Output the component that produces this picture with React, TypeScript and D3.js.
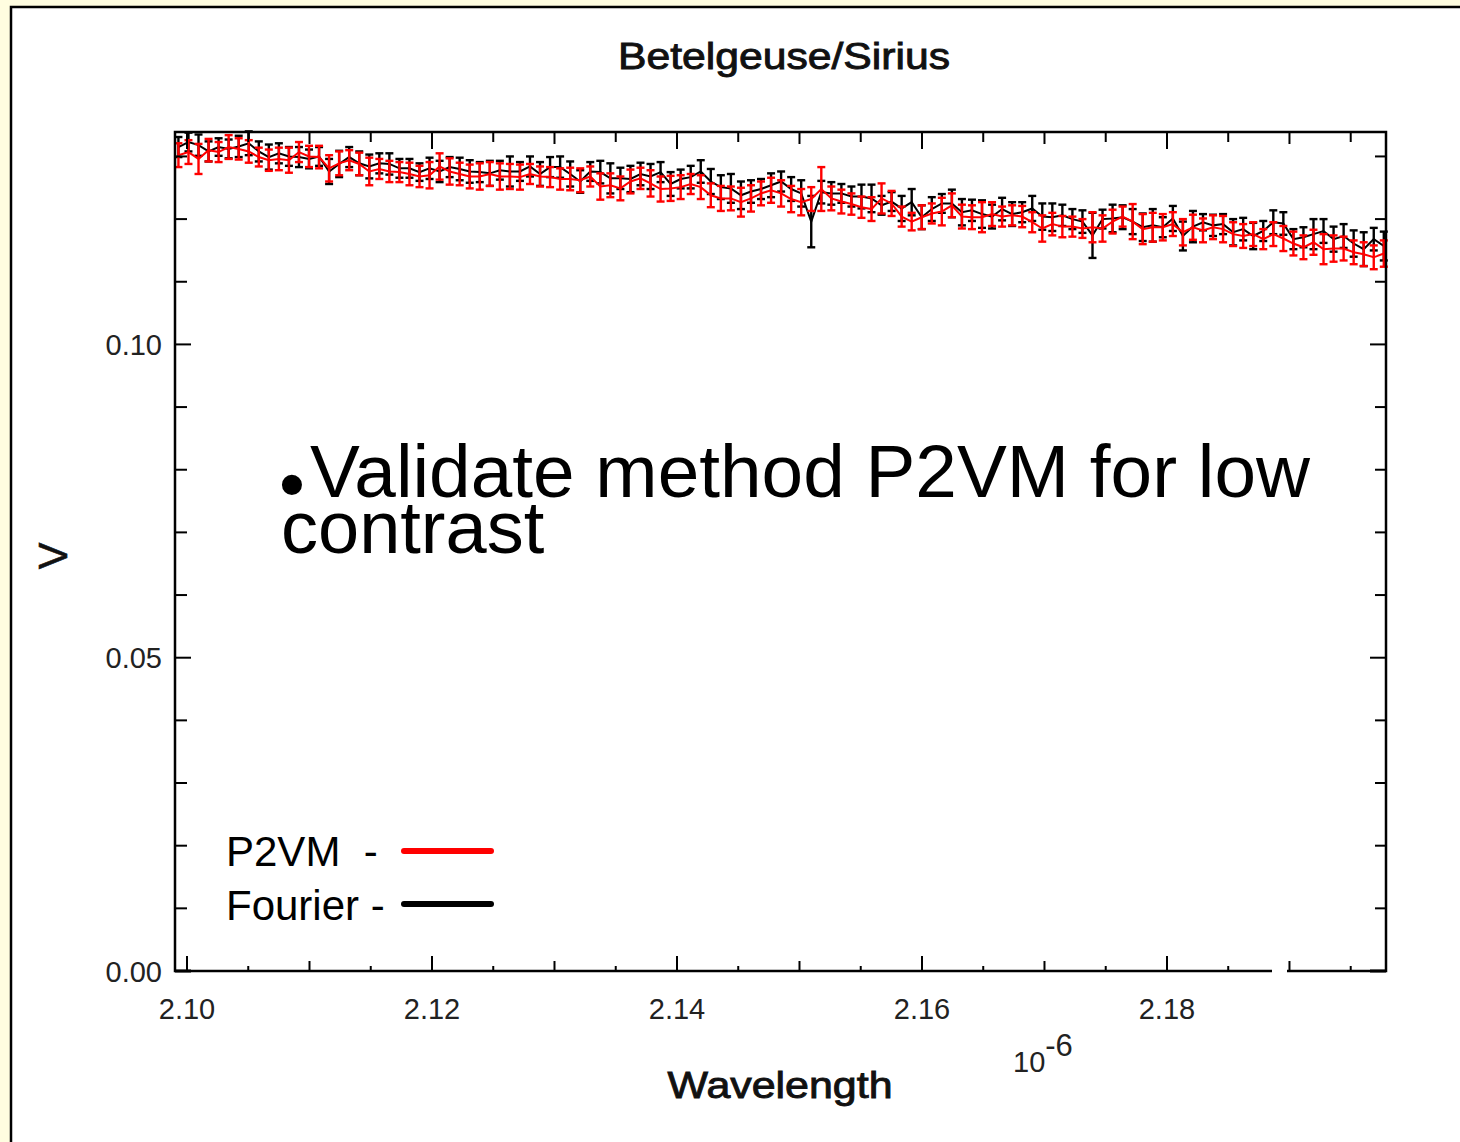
import React from 'react';
import * as d3 from 'd3';

// Spectral channel grid (micrometres)
const WL_START = 2.0993;
const WL_STEP = 0.00082;

const p2vmV = [
  0.1302,0.1307,0.1296,0.1310,0.1307,0.1315,0.1312,0.1308,0.1299,0.1294,
  0.1296,0.1294,0.1307,0.1300,0.1299,0.1281,0.1289,0.1294,0.1288,0.1276,
  0.1280,0.1276,0.1275,0.1272,0.1268,0.1270,0.1284,0.1276,0.1272,0.1268,
  0.1268,0.1272,0.1268,0.1268,0.1267,0.1272,0.1268,0.1267,0.1264,0.1264,
  0.1262,0.1268,0.1252,0.1254,0.1249,0.1260,0.1265,0.1257,0.1248,0.1249,
  0.1251,0.1256,0.1251,0.1238,0.1233,0.1233,0.1227,0.1233,0.1241,0.1246,
  0.1241,0.1232,0.1227,0.1232,0.1248,0.1233,0.1228,0.1224,0.1219,0.1216,
  0.1233,0.1225,0.1204,0.1196,0.1203,0.1209,0.1212,0.1222,0.1204,0.1203,
  0.1203,0.1208,0.1204,0.1206,0.1204,0.1195,0.1185,0.1192,0.1188,0.1188,
  0.1185,0.1187,0.1185,0.1196,0.1204,0.1196,0.1184,0.1187,0.1187,0.1192,
  0.1179,0.1187,0.1182,0.1187,0.1184,0.1176,0.1173,0.1176,0.1168,0.1176,
  0.1169,0.1161,0.1155,0.1163,0.1152,0.1153,0.1153,0.1147,0.1144,0.1139,
  0.1145,
];
const p2vmErr = [
  0.0019,0.0019,0.0024,0.0018,0.0016,0.0019,0.0017,0.0018,0.0015,0.0017,
  0.0018,0.0020,0.0016,0.0017,0.0018,0.0021,0.0019,0.0016,0.0018,0.0022,
  0.0016,0.0017,0.0016,0.0018,0.0017,0.0021,0.0021,0.0021,0.0018,0.0019,
  0.0021,0.0019,0.0021,0.0020,0.0020,0.0016,0.0016,0.0016,0.0017,0.0018,
  0.0019,0.0016,0.0021,0.0019,0.0019,0.0019,0.0017,0.0021,0.0020,0.0020,
  0.0019,0.0016,0.0019,0.0019,0.0020,0.0019,0.0023,0.0021,0.0019,0.0020,
  0.0021,0.0021,0.0021,0.0019,0.0035,0.0019,0.0019,0.0017,0.0017,0.0019,
  0.0024,0.0020,0.0016,0.0014,0.0019,0.0016,0.0022,0.0019,0.0019,0.0019,
  0.0024,0.0019,0.0016,0.0016,0.0017,0.0016,0.0021,0.0018,0.0017,0.0016,
  0.0015,0.0024,0.0021,0.0019,0.0016,0.0028,0.0024,0.0023,0.0021,0.0019,
  0.0021,0.0020,0.0019,0.0019,0.0021,0.0019,0.0019,0.0019,0.0016,0.0019,
  0.0020,0.0019,0.0019,0.0020,0.0024,0.0021,0.0019,0.0019,0.0019,0.0019,
  0.0021,
];
const fourierV = [
  0.1315,0.1323,0.1318,0.1308,0.1315,0.1312,0.1316,0.1321,0.1308,0.1299,
  0.1305,0.1300,0.1299,0.1296,0.1300,0.1276,0.1288,0.1299,0.1289,0.1284,
  0.1289,0.1288,0.1281,0.1281,0.1275,0.1281,0.1276,0.1283,0.1280,0.1276,
  0.1275,0.1273,0.1278,0.1276,0.1276,0.1284,0.1272,0.1283,0.1283,0.1272,
  0.1260,0.1276,0.1275,0.1265,0.1265,0.1264,0.1272,0.1268,0.1275,0.1256,
  0.1264,0.1267,0.1276,0.1260,0.1251,0.1249,0.1238,0.1244,0.1248,0.1254,
  0.1260,0.1248,0.1241,0.1196,0.1243,0.1241,0.1241,0.1236,0.1236,0.1233,
  0.1222,0.1228,0.1217,0.1227,0.1203,0.1216,0.1225,0.1225,0.1211,0.1214,
  0.1208,0.1204,0.1216,0.1208,0.1211,0.1217,0.1204,0.1203,0.1206,0.1200,
  0.1196,0.1174,0.1200,0.1201,0.1203,0.1196,0.1187,0.1190,0.1187,0.1201,
  0.1173,0.1188,0.1195,0.1190,0.1192,0.1179,0.1184,0.1173,0.1181,0.1195,
  0.1193,0.1168,0.1171,0.1176,0.1181,0.1168,0.1173,0.1161,0.1152,0.1168,
  0.1157,
];
const fourierErr = [
  0.0016,0.0015,0.0017,0.0016,0.0014,0.0015,0.0017,0.0019,0.0016,0.0020,
  0.0016,0.0015,0.0016,0.0015,0.0015,0.0020,0.0021,0.0016,0.0019,0.0019,
  0.0016,0.0017,0.0015,0.0015,0.0014,0.0017,0.0017,0.0016,0.0018,0.0018,
  0.0016,0.0020,0.0015,0.0024,0.0015,0.0016,0.0019,0.0016,0.0017,0.0020,
  0.0018,0.0015,0.0018,0.0024,0.0017,0.0021,0.0018,0.0020,0.0016,0.0019,
  0.0015,0.0018,0.0018,0.0020,0.0019,0.0023,0.0022,0.0018,0.0016,0.0019,
  0.0016,0.0019,0.0021,0.0041,0.0018,0.0018,0.0015,0.0016,0.0019,0.0022,
  0.0015,0.0015,0.0020,0.0021,0.0019,0.0019,0.0015,0.0022,0.0021,0.0017,
  0.0022,0.0019,0.0018,0.0019,0.0016,0.0020,0.0021,0.0022,0.0017,0.0016,
  0.0018,0.0036,0.0015,0.0022,0.0019,0.0020,0.0022,0.0026,0.0016,0.0020,
  0.0023,0.0025,0.0013,0.0017,0.0016,0.0021,0.0018,0.0021,0.0016,0.0019,
  0.0018,0.0016,0.0016,0.0024,0.0019,0.0020,0.0019,0.0021,0.0027,0.0018,
  0.0023,
];

const xMajorTicks = [2.10, 2.12, 2.14, 2.16, 2.18];
const xMajorLabels = ['2.10', '2.12', '2.14', '2.16', '2.18'];
const xMidTicks = [2.11, 2.13, 2.15, 2.17, 2.19];
const xMinorTicks = [2.105, 2.115, 2.125, 2.135, 2.145, 2.155, 2.165, 2.175, 2.185, 2.195];
const yMajorTicks = [0, 0.05, 0.10];
const yMajorLabels = ['0.00', '0.05', '0.10'];
const yMinorTicks = [0.01, 0.02, 0.03, 0.04, 0.06, 0.07, 0.08, 0.09, 0.11, 0.12, 0.13];

const legendItems = [
  { label: 'P2VM  -', color: '#ff0000' },
  { label: 'Fourier -', color: '#000000' },
];

const FONT = "'Liberation Sans', Arial, Helvetica, sans-serif";

const L = 175, R = 1386, T = 132, B = 971;

export default function App() {
  const x = d3.scaleLinear().domain([2.09902, 2.19788]).range([L, R]);
  const y = d3.scaleLinear().domain([0, 0.1339]).range([B, T]);
  const wl = p2vmV.map((_, i) => WL_START + i * WL_STEP);

  const line = d3.line<number>().x((_, i) => x(wl[i])).y((v) => y(v));

  const series = [
    { vals: fourierV, errs: fourierErr, color: '#000000' },
    { vals: p2vmV, errs: p2vmErr, color: '#ff0000' },
  ];

  const cap = 4;

  return (
    <svg width={1460} height={1142} style={{ position: 'absolute', left: 0, top: 0 }} fontFamily={FONT}>
      <rect x={0} y={0} width={1460} height={1142} fill="#fffde0" />
      <rect x={11} y={7} width={1470} height={1150} fill="#ffffff" stroke="#000" strokeWidth={2.5} />

      {/* title */}
      <text x={784} y={69} fontSize={37} textAnchor="middle" textLength={332} lengthAdjust="spacingAndGlyphs" fill="#111" stroke="#111" strokeWidth={0.9}>Betelgeuse/Sirius</text>

      {/* data */}
      {series.map((s, si) => (
        <g key={si} stroke={s.color} fill="none">
          <path d={line(s.vals) || ''} strokeWidth={2} />
          {s.vals.map((v, i) => {
            const cx = x(wl[i]);
            const y1 = y(v + s.errs[i]);
            const y2 = y(v - s.errs[i]);
            return (
              <g key={i} strokeWidth={2.4}>
                <line x1={cx} x2={cx} y1={y1} y2={y2} />
                <line x1={cx - cap} x2={cx + cap} y1={y1} y2={y1} />
                <line x1={cx - cap} x2={cx + cap} y1={y2} y2={y2} />
              </g>
            );
          })}
        </g>
      ))}

      {/* frame */}
      <rect x={L} y={T} width={R - L} height={B - T} fill="none" stroke="#000" strokeWidth={2.5} />
      <rect x={1272} y={968} width={15} height={6} fill="#fff" />

      {/* ticks */}
      <g stroke="#000" strokeWidth={2}>
        {xMajorTicks.map((t) => (
          <g key={'xM' + t}>
            <line x1={x(t)} x2={x(t)} y1={B} y2={B - 15} />
            <line x1={x(t)} x2={x(t)} y1={T} y2={T + 17} />
          </g>
        ))}
        {xMidTicks.map((t) => (
          <g key={'xm' + t}>
            <line x1={x(t)} x2={x(t)} y1={B} y2={B - 10} />
            <line x1={x(t)} x2={x(t)} y1={T} y2={T + 12} />
          </g>
        ))}
        {xMinorTicks.map((t) => (
          <g key={'xn' + t}>
            <line x1={x(t)} x2={x(t)} y1={B} y2={B - 5} />
            <line x1={x(t)} x2={x(t)} y1={T} y2={T + 10} />
          </g>
        ))}
        {yMajorTicks.map((t) => (
          <g key={'yM' + t}>
            <line x1={L} x2={L + 16} y1={y(t)} y2={y(t)} strokeWidth={t === 0 ? 3 : 2} />
            <line x1={R} x2={R - 16} y1={y(t)} y2={y(t)} strokeWidth={t === 0 ? 3 : 2} />
          </g>
        ))}
        {yMinorTicks.map((t) => (
          <g key={'ym' + t}>
            <line x1={L} x2={L + 12} y1={y(t)} y2={y(t)} />
            <line x1={R} x2={R - 11} y1={y(t)} y2={y(t)} />
          </g>
        ))}
      </g>

      {/* tick labels */}
      <g fontSize={29} fill="#222">
        {xMajorTicks.map((t, i) => (
          <text key={'xl' + t} x={x(t)} y={1019} textAnchor="middle">{xMajorLabels[i]}</text>
        ))}
        {yMajorTicks.map((t, i) => (
          <text key={'yl' + t} x={162} y={y(t) + 10.5} textAnchor="end">{yMajorLabels[i]}</text>
        ))}
        <text x={1013} y={1072}>10<tspan dy={-16} fontSize={31}>-6</tspan></text>
      </g>

      {/* axis titles */}
      <text x={780} y={1098} fontSize={37} textAnchor="middle" textLength={225} lengthAdjust="spacingAndGlyphs" fill="#111" stroke="#111" strokeWidth={0.9}>Wavelength</text>
      <text transform="translate(67,556) rotate(-90)" fontSize={40} textAnchor="middle" fill="#111" stroke="#111" strokeWidth={0.6}>V</text>

      {/* legend */}
      {legendItems.map((it, i) => (
        <g key={it.label}>
          <text x={226} y={866 + i * 54} fontSize={42} fill="#000" style={{ whiteSpace: 'pre' }}>{it.label}</text>
          <line x1={404} x2={491} y1={851 + i * 53} y2={851 + i * 53} stroke={it.color} strokeWidth={6} strokeLinecap="round" />
        </g>
      ))}

      {/* overlay annotation */}
      <text x={279} y={510} fontSize={74} fill="#000">
        <tspan>•</tspan>
        <tspan x={310} y={497} textLength={1000} lengthAdjust="spacingAndGlyphs">Validate method P2VM for low</tspan>
        <tspan x={281} y={553}>contrast</tspan>
      </text>
    </svg>
  );
}
